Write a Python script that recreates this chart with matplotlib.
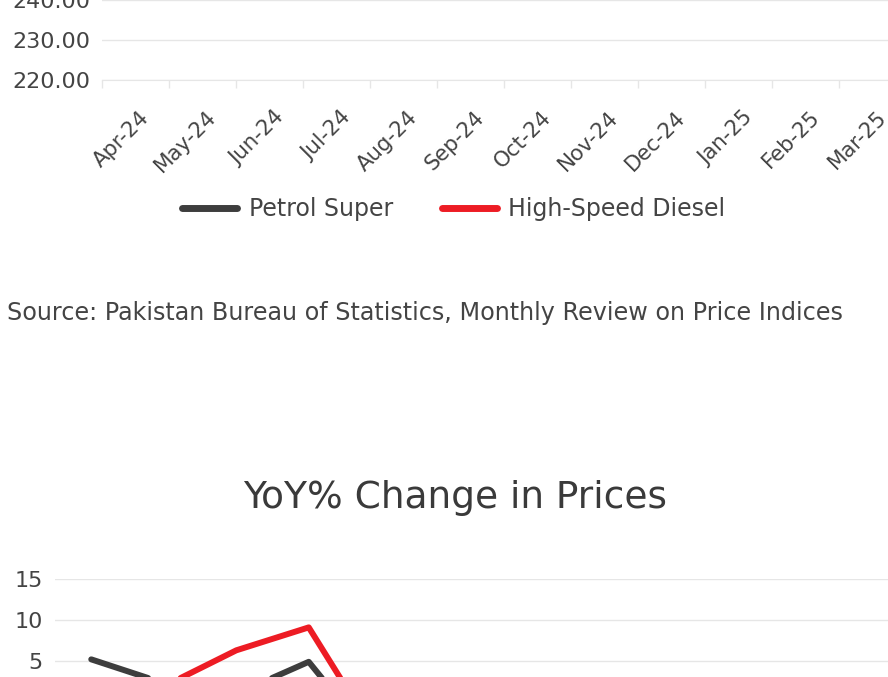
import matplotlib
matplotlib.use('Agg')
import matplotlib.pyplot as plt
import matplotlib.transforms as mtransforms
from matplotlib.ticker import FormatStrFormatter

# data (Rs/litre, YoY %) - top-chart prices sit above the visible crop, estimated
months = ['Apr-24', 'May-24', 'Jun-24', 'Jul-24', 'Aug-24', 'Sep-24',
          'Oct-24', 'Nov-24', 'Dec-24', 'Jan-25', 'Feb-25', 'Mar-25']
petrol_price = [289.4, 281.5, 268.4, 268.3, 262.7, 257.0, 248.4, 248.4, 252.1, 254.6, 256.6, 255.6]
diesel_price = [293.0, 286.3, 270.1, 275.1, 267.2, 258.4, 250.1, 255.1, 258.4, 260.2, 261.6, 259.2]
petrol_yoy = [5.2, 2.3, 1.0, 4.9, -6.0, -21.0, -12.5, -11.8, -5.9, -4.2, -5.6, -8.3]
diesel_yoy = [1.5, 1.9, 6.3, 9.1, -5.1, -22.0, -15.0, -10.5, -8.0, -4.5, -5.5, -7.0]

DARK = '#3d3d3d'
RED = '#ed1c24'
TXT = '#444444'
GRID = '#e6e6e6'

W, H = 888, 677
fig = plt.figure(figsize=(W / 100, H / 100), dpi=100)


def px_rect(l, t, r, b):
    return [l / W, 1 - b / H, (r - l) / W, (b - t) / H]


x = list(range(len(months)))

# ---- top chart: prices (only the bottom part is in view)
ax1 = fig.add_axes(px_rect(102, -240, 906, 80))
ax1.plot(x, petrol_price, color=DARK, lw=5, solid_capstyle='round',
         solid_joinstyle='round', label='Petrol Super')
ax1.plot(x, diesel_price, color=RED, lw=5, solid_capstyle='round',
         solid_joinstyle='round', label='High-Speed Diesel')
ax1.set_xlim(-0.5, len(months) - 0.5)
ax1.set_ylim(220, 300)
ax1.set_yticks(range(220, 301, 10))
ax1.yaxis.set_major_formatter(FormatStrFormatter('%.2f'))
ax1.grid(axis='y', color=GRID, lw=1)
ax1.set_axisbelow(True)
for s in ['top', 'right', 'left']:
    ax1.spines[s].set_visible(False)
ax1.spines['bottom'].set_color(GRID)
ax1.tick_params(axis='y', length=0, pad=8.6, labelsize=16, labelcolor=TXT)
ax1.set_xticks(x)
ax1.set_xticklabels(months, rotation=45, ha='right', va='center',
                    rotation_mode='anchor')
ax1.tick_params(axis='x', which='major', length=0, pad=24.5, labelsize=15.3, labelcolor=TXT)
ax1.set_xticks([i - 0.5 for i in range(len(months) + 1)], minor=True)
ax1.tick_params(axis='x', which='minor', length=6, width=1, color=GRID)
shift = mtransforms.ScaledTranslation(11 / 100, 0, fig.dpi_scale_trans)
for lab in ax1.get_xticklabels():
    lab.set_transform(lab.get_transform() + shift)

fig.legend(handles=ax1.get_lines(), loc='center', bbox_to_anchor=(454 / W, 1 - 209 / H),
           ncol=2, frameon=False, fontsize=17, labelcolor=TXT,
           handlelength=2.3, handletextpad=0.5, columnspacing=2.1)

fig.text(7 / W, 1 - 320 / H,
         'Source: Pakistan Bureau of Statistics, Monthly Review on Price Indices',
         ha='left', va='baseline', fontsize=17.2, color=TXT)

# ---- bottom chart: YoY % change
fig.text(455.5 / W, 1 - 508 / H, 'YoY% Change in Prices', ha='center',
         va='baseline', fontsize=27, color='#3a3a3a')

ax2 = fig.add_axes(px_rect(55, 579, 925, 579 + 40 * 8.2))
ax2.plot(x, petrol_yoy, color=DARK, lw=4.3, solid_capstyle='round',
         solid_joinstyle='round')
ax2.plot(x, diesel_yoy, color=RED, lw=4.3, solid_capstyle='round',
         solid_joinstyle='round')
ax2.set_xlim(-0.5, len(months) - 0.5)
ax2.set_ylim(-25, 15)
ax2.set_yticks(range(-25, 16, 5))
ax2.grid(axis='y', color=GRID, lw=1)
ax2.set_axisbelow(True)
for s in ax2.spines.values():
    s.set_visible(False)
ax2.set_xticks([])
ax2.tick_params(axis='y', length=0, pad=8.6, labelsize=16, labelcolor=TXT)

fig.savefig('out.png', dpi=100)
